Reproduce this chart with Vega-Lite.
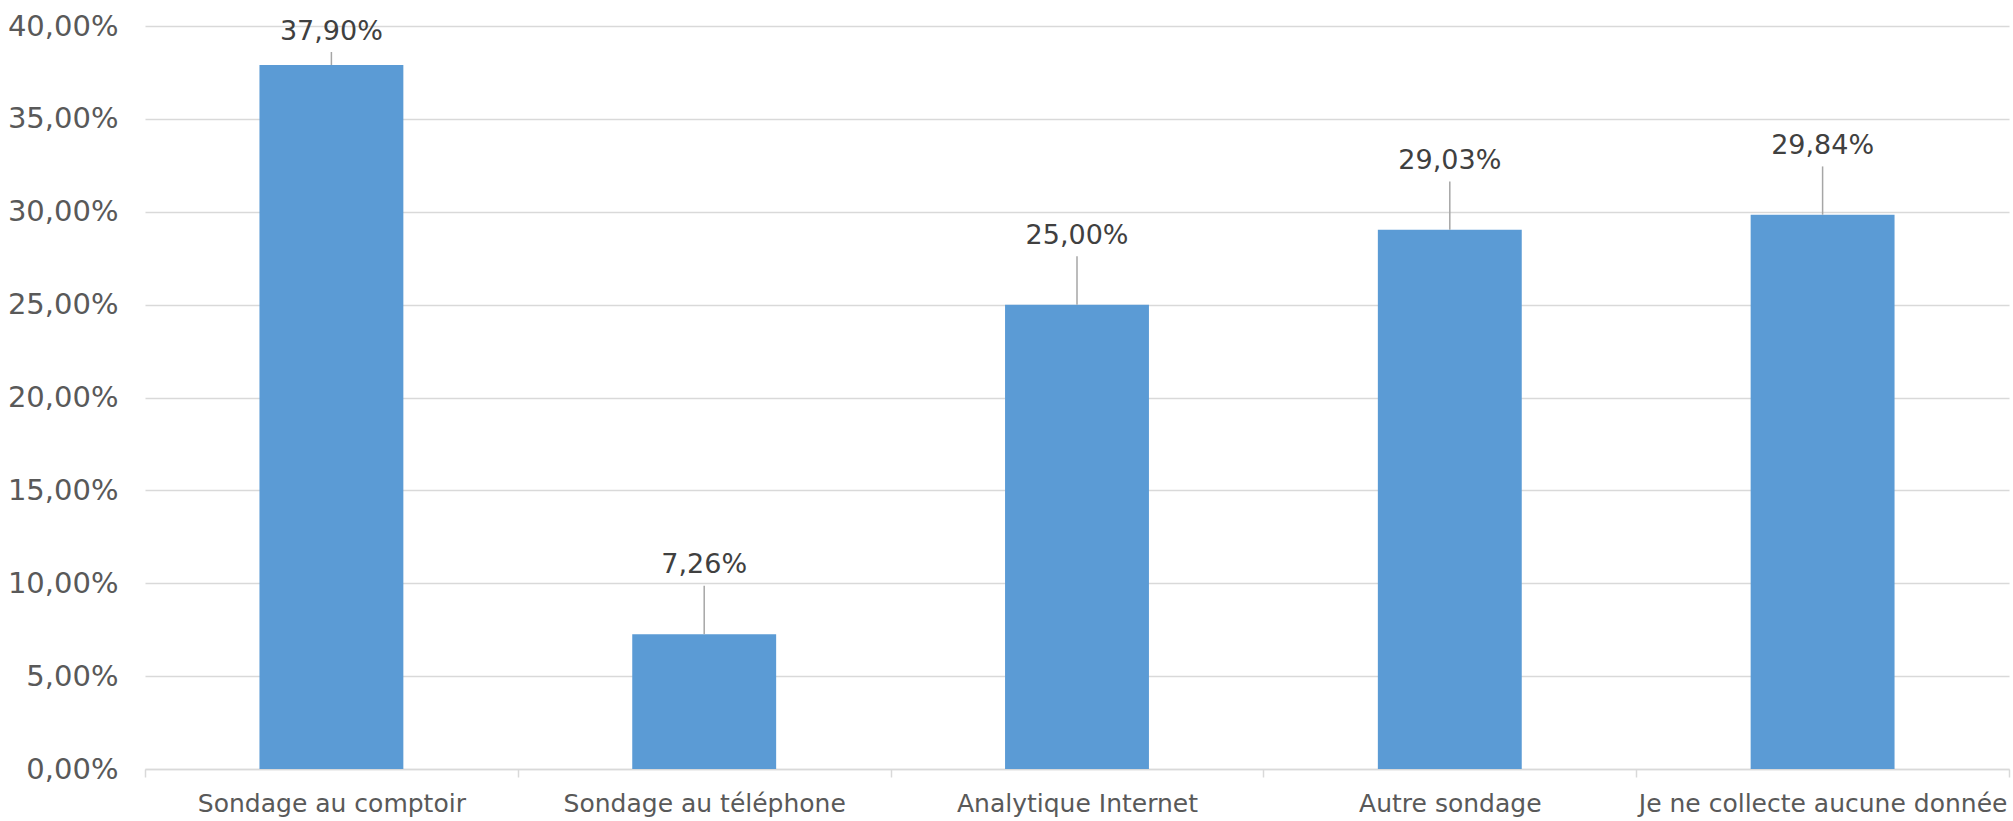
{
  "$schema": "https://vega.github.io/schema/vega-lite/v6.json",
  "width": 1864,
  "height": 743,
  "autosize": {"type": "none"},
  "padding": {"left": 145, "top": 26, "right": 4, "bottom": 52},
  "background": "white",
  "config": {
    "locale": {
      "number": {"decimal": ",", "thousands": " ", "grouping": [3], "currency": ["", " €"], "percent": "%"}
    },
    "view": {"stroke": null},
    "font": "DejaVu Sans"
  },
  "data": {
    "values": [
      {"methode": "Sondage au comptoir", "part": 0.379},
      {"methode": "Sondage au téléphone", "part": 0.0726},
      {"methode": "Analytique Internet", "part": 0.25},
      {"methode": "Autre sondage", "part": 0.2903},
      {"methode": "Je ne collecte aucune donnée", "part": 0.2984}
    ]
  },
  "transform": [
    {"calculate": "min(datum.part + 0.037, 0.397)", "as": "etiquette"},
    {"calculate": "datum.etiquette - 0.011", "as": "repere"}
  ],
  "encoding": {
    "x": {
      "field": "methode",
      "type": "nominal",
      "sort": null,
      "scale": {"paddingInner": 0, "paddingOuter": 0},
      "axis": {
        "title": null,
        "labelAngle": 0,
        "labelFont": "DejaVu Sans",
        "labelFontSize": 25,
        "labelColor": "#595959",
        "labelPadding": 14,
        "labelLimit": 0,
        "domainColor": "#d9d9d9",
        "domainWidth": 1.5,
        "tickColor": "#d9d9d9",
        "tickWidth": 1.5,
        "tickSize": 8,
        "tickBand": "extent",
        "grid": false
      }
    }
  },
  "layer": [
    {
      "mark": {"type": "bar", "color": "#5b9bd5", "width": {"band": 0.386}},
      "encoding": {
        "y": {
          "field": "part",
          "type": "quantitative",
          "scale": {"domain": [0, 0.4], "nice": false},
          "axis": {
            "title": null,
            "values": [0, 0.05, 0.1, 0.15, 0.2, 0.25, 0.3, 0.35, 0.4],
            "format": ".2%",
            "labelFont": "DejaVu Sans",
            "labelFontSize": 29,
            "labelColor": "#595959",
            "labelPadding": 27,
            "domain": false,
            "ticks": false,
            "grid": true,
            "gridColor": "#d9d9d9",
            "gridWidth": 1.5
          }
        }
      }
    },
    {
      "mark": {"type": "rule", "color": "#a6a6a6", "strokeWidth": 1.5},
      "encoding": {
        "y": {"field": "part", "type": "quantitative"},
        "y2": {"field": "repere"}
      }
    },
    {
      "mark": {"type": "text", "fontSize": 27, "color": "#404040", "baseline": "middle", "align": "center"},
      "encoding": {
        "y": {"field": "etiquette", "type": "quantitative"},
        "text": {"field": "part", "type": "quantitative", "format": ".2%"}
      }
    }
  ]
}
